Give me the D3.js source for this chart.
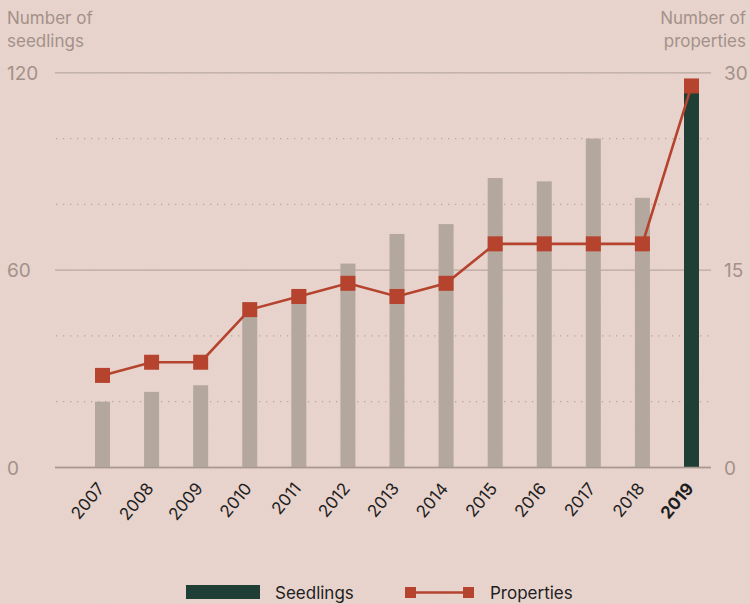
<!DOCTYPE html>
<html>
<head>
<meta charset="utf-8">
<script src="https://cdn.jsdelivr.net/npm/d3@7/dist/d3.min.js"></script>
<style>
  html, body { margin: 0; padding: 0; background: #e9d5ce; }
  svg { display: block; font-family: Inter, "Open Sans", sans-serif; }
</style>
</head>
<body>
<svg id="chart" width="750" height="604"></svg>
<script>
// Seedlings planted and properties involved, per year
const years = ["2007","2008","2009","2010","2011","2012","2013","2014","2015","2016","2017","2018","2019"];
const seedlings = [20, 23, 25, 46, 54, 62, 71, 74, 88, 87, 100, 82, 117];
const properties = [7, 8, 8, 12, 13, 14, 13, 14, 17, 17, 17, 17, 29];
const leftTicks = [0, 60, 120];
const rightTicks = [0, 15, 30];
const dottedLeft = [20, 40, 80, 100];
const highlightYear = "2019";

const svg = d3.select("#chart");
const W = 750, H = 604;

// paper grain
const defs = svg.append("defs");
const f = defs.append("filter").attr("id", "grain").attr("x", 0).attr("y", 0).attr("width", "100%").attr("height", "100%");
f.append("feTurbulence").attr("type", "fractalNoise").attr("baseFrequency", 0.9).attr("numOctaves", 2).attr("seed", 3).attr("result", "n");
f.append("feColorMatrix").attr("in", "n").attr("type", "matrix")
  .attr("values", "0 0 0 0 0.55  0 0 0 0 0.45  0 0 0 0 0.42  0 0 0 0.10 0");
svg.append("rect").attr("width", W).attr("height", H).attr("fill", "#e9d5ce");
svg.append("rect").attr("width", W).attr("height", H).attr("filter", "url(#grain)");

const plotL = 55, plotR = 711, yTop = 72.8, yBot = 467.5;

const x = d3.scalePoint().domain(years).range([102.5, 691.5]);
const yL = d3.scaleLinear().domain([0, 120]).range([yBot, yTop]);
const yR = d3.scaleLinear().domain([0, 30]).range([yBot, yTop]);

const gridCol = "#b9a99f", labelCol = "#a39189";

// dotted guides
svg.append("g").selectAll("line").data(dottedLeft).join("line")
  .attr("x1", plotL + 1).attr("x2", plotR + 1)
  .attr("y1", d => yL(d)).attr("y2", d => yL(d))
  .attr("stroke", "#b8a69d").attr("stroke-width", 1.3)
  .attr("stroke-dasharray", "1.3,5.7");

// solid guides
svg.append("g").selectAll("line").data(leftTicks).join("line")
  .attr("x1", plotL).attr("x2", plotR)
  .attr("y1", d => yL(d)).attr("y2", d => yL(d))
  .attr("stroke", gridCol).attr("stroke-width", 1.3);

// axis headers
const hdr = svg.append("g").attr("fill", labelCol).attr("font-size", 17);
hdr.append("text").attr("x", 7).attr("y", 24).text("Number of");
hdr.append("text").attr("x", 7).attr("y", 47).text("seedlings");
hdr.append("text").attr("x", 746).attr("y", 24).attr("text-anchor", "end").text("Number of");
hdr.append("text").attr("x", 746).attr("y", 47).attr("text-anchor", "end").text("properties");

// tick labels
svg.append("g").selectAll("text").data(leftTicks).join("text")
  .attr("x", 7).attr("y", d => yL(d) + 7)
  .attr("fill", labelCol).attr("font-size", 19).text(d => d);
svg.append("g").selectAll("text").data(rightTicks).join("text")
  .attr("x", 724).attr("y", d => yR(d) + 7)
  .attr("fill", labelCol).attr("font-size", 19).text(d => d);

// bars
const bw = 15;
svg.append("g").selectAll("rect").data(years).join("rect")
  .attr("x", d => x(d) - bw / 2)
  .attr("width", bw)
  .attr("y", (d, i) => yL(seedlings[i]))
  .attr("height", (d, i) => yBot - yL(seedlings[i]))
  .attr("fill", d => d === highlightYear ? "#1f3f36" : "#b4a89e");

// baseline
svg.append("line").attr("x1", plotL).attr("x2", plotR)
  .attr("y1", yBot).attr("y2", yBot)
  .attr("stroke", "#a89890").attr("stroke-width", 1.3);

// properties line
const red = "#b5432e";
const line = d3.line().x((d, i) => x(years[i])).y(d => yR(d));
svg.append("path").datum(properties).attr("d", line)
  .attr("fill", "none").attr("stroke", red).attr("stroke-width", 2.6);
const ms = 15;
svg.append("g").selectAll("rect").data(properties).join("rect")
  .attr("x", (d, i) => x(years[i]) - ms / 2)
  .attr("y", d => yR(d) - ms / 2)
  .attr("width", ms).attr("height", ms)
  .attr("fill", red);

// year labels
svg.append("g").selectAll("text").data(years).join("text")
  .attr("transform", d => `translate(${x(d) + 3},${489}) rotate(-50)`)
  .attr("text-anchor", "end")
  .attr("fill", "#1e1e1e")
  .attr("font-size", 17)
  .attr("font-weight", d => d === highlightYear ? 700 : 400)
  .text(d => d);

// legend
const lg = svg.append("g");
lg.append("rect").attr("x", 186).attr("y", 585).attr("width", 74).attr("height", 14).attr("fill", "#1f3f36");
lg.append("text").attr("x", 275).attr("y", 599).attr("font-size", 17).attr("fill", "#1e1e1e").text("Seedlings");
lg.append("line").attr("x1", 408).attr("x2", 472).attr("y1", 592.5).attr("y2", 592.5)
  .attr("stroke", red).attr("stroke-width", 2.4);
lg.append("rect").attr("x", 405).attr("y", 587).attr("width", 11).attr("height", 11).attr("fill", red);
lg.append("rect").attr("x", 463).attr("y", 587).attr("width", 11).attr("height", 11).attr("fill", red);
lg.append("text").attr("x", 490).attr("y", 599).attr("font-size", 17).attr("fill", "#1e1e1e").text("Properties");
</script>
</body>
</html>
